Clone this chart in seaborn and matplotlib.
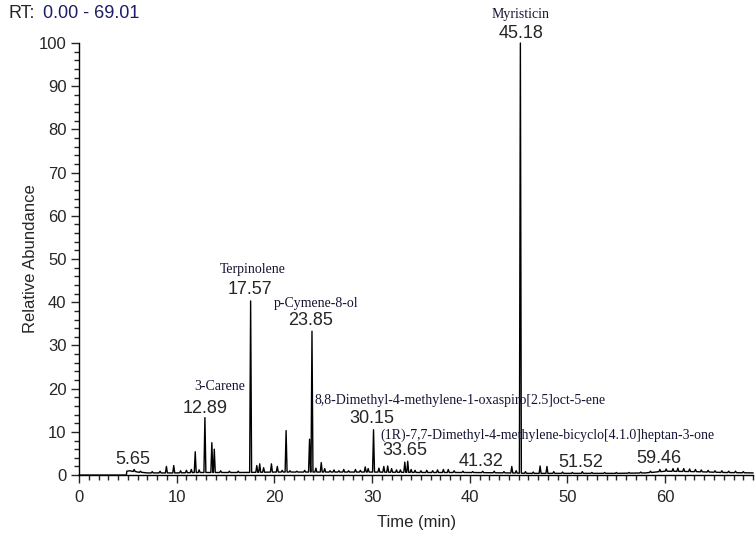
import numpy as np
import pandas as pd
import matplotlib
matplotlib.use("Agg")
import matplotlib.pyplot as plt
from matplotlib.ticker import MultipleLocator
import seaborn as sns

# Baseline of the trace (retention time in min, relative abundance)
base_rt = [0.0, 4.85, 4.9, 5.2, 6.0, 7.0, 8.0, 10.0, 12.0, 15.0, 17.0, 20.0, 25.0,
           30.0, 35.0, 40.0, 44.0, 46.0, 50.0, 55.0, 58.0, 60.0, 63.0, 66.0, 69.01]
base_ab = [0.0, 0.0, 0.9, 1.0, 0.7, 0.5, 0.5, 0.5, 0.6, 0.6, 0.6, 0.7, 0.7,
           0.7, 0.6, 0.6, 0.5, 0.4, 0.4, 0.4, 0.5, 0.9, 0.8, 0.6, 0.5]

# Peak apexes
peak_rt = [5.65, 6.3, 7.5, 8.3, 8.95, 9.7, 10.4, 11.0, 11.5, 11.9, 12.3, 12.89,
           13.6, 13.85, 14.5, 15.4, 16.3, 17.57, 18.2, 18.5, 18.9, 19.7, 20.3,
           20.8, 21.2, 21.6, 22.3, 23.1, 23.6, 23.85, 24.25, 24.8, 25.15, 25.7,
           26.1, 26.6, 27.1, 27.6, 28.3, 28.8, 29.3, 29.6, 30.15, 30.7, 31.2,
           31.6, 32.0, 32.5, 32.9, 33.35, 33.65, 34.0, 34.4, 35.0, 35.6, 36.2,
           36.7, 37.3, 37.8, 38.4, 39.3, 40.3, 41.32, 42.5, 43.5, 44.3, 44.75,
           45.18, 45.7, 46.5, 47.2, 47.9, 48.6, 49.5, 50.5, 51.52, 52.5, 53.8,
           55.0, 56.3, 57.5, 58.5, 59.46, 60.1, 60.8, 61.3, 61.9, 62.5, 63.1,
           63.7, 64.4, 65.1, 65.8, 66.5, 67.2, 68.0]
peak_ab = [1.3, 0.9, 0.8, 0.9, 2.0, 2.2, 1.0, 1.1, 1.3, 5.4, 1.2, 13.3,
           7.5, 6.0, 1.0, 0.9, 0.9, 40.3, 2.2, 2.6, 1.7, 2.6, 2.0,
           1.1, 10.3, 1.0, 0.9, 1.1, 8.3, 33.3, 1.6, 2.9, 1.5, 1.0,
           1.2, 1.0, 1.3, 1.0, 1.3, 1.1, 1.9, 1.5, 10.5, 1.6, 2.0,
           2.1, 1.5, 1.2, 1.2, 3.0, 3.2, 1.3, 1.1, 1.0, 1.1, 1.0,
           1.2, 1.3, 1.3, 1.0, 0.9, 0.8, 0.9, 0.9, 0.8, 2.0, 1.0,
           100.0, 0.8, 0.7, 2.1, 2.0, 0.8, 0.7, 0.6, 0.8, 0.6, 0.6,
           0.6, 0.6, 0.7, 0.9, 1.3, 1.4, 1.5, 1.6, 1.5, 1.4, 1.3,
           1.2, 1.1, 1.0, 1.0, 0.9, 0.9, 0.8]

# Annotated peaks
label_rt = ["5.65", "12.89", "17.57", "23.85", "30.15", "33.65", "41.32",
            "45.18", "51.52", "59.46"]
label_names = ["", "3-Carene", "Terpinolene", "p-Cymene-8-ol",
               "8,8-Dimethyl-4-methylene-1-oxaspiro[2.5]oct-5-ene",
               "(1R)-7,7-Dimethyl-4-methylene-bicyclo[4.1.0]heptan-3-one",
               "", "Myristicin", "", ""]

# build the trace: baseline + narrow triangular peaks
half_w = 0.1
pts = []
for t, a in zip(base_rt, base_ab):
    if all(abs(t - p) > half_w for p in peak_rt):
        pts.append((t, a))
for t, h in zip(peak_rt, peak_ab):
    b = float(np.interp(t, base_rt, base_ab))
    pts += [(t - half_w, b), (t, h), (t + half_w, b)]
pts.sort()
trace = pd.DataFrame(pts, columns=["rt", "abundance"])

sns.set_style("ticks")
plt.rcParams["font.family"] = ["Liberation Sans", "DejaVu Sans"]

fig = plt.figure(figsize=(7.55, 5.35), dpi=100)
ax = fig.add_axes([0.1046, 0.112, 0.893, 0.8076])

sns.lineplot(data=trace, x="rt", y="abundance", sort=False, estimator=None,
             color="black", linewidth=1.0, ax=ax)
for line in ax.lines:
    line.set_clip_on(False)

ax.set_xlim(0, 69.01)
ax.set_ylim(0, 100)
ax.xaxis.set_major_locator(MultipleLocator(10))
ax.xaxis.set_minor_locator(MultipleLocator(1))
ax.yaxis.set_major_locator(MultipleLocator(10))
ax.yaxis.set_minor_locator(MultipleLocator(2))
ax.tick_params(axis="both", which="major", length=6, width=1, labelsize=12)
ax.tick_params(axis="x", which="major", pad=5)
ax.tick_params(axis="y", which="major", pad=3)
ax.tick_params(axis="both", which="minor", length=3.5, width=1)
sns.despine(ax=ax)
for s in ["left", "bottom"]:
    ax.spines[s].set_linewidth(1)
    ax.spines[s].set_color("black")
ax.set_xlabel("Time (min)", fontsize=12, labelpad=7)
ax.set_ylabel("Relative Abundance", fontsize=12, labelpad=0.5)

# label positions (data coords)
num_pos = {"5.65": (5.5, 3.5), "12.89": (12.95, 15.5), "17.57": (17.45, 43.0),
           "23.85": (23.75, 35.7), "30.15": (30.0, 13.0), "33.65": (33.4, 5.6),
           "41.32": (41.2, 3.1), "45.18": (45.2, 102.3), "51.52": (51.4, 2.8),
           "59.46": (59.35, 3.9)}
name_pos = {"3-Carene": (14.4, 20.6, "center"), "Terpinolene": (17.76, 47.5, "center"),
            "p-Cymene-8-ol": (24.25, 39.8, "center"), "Myristicin": (45.2, 106.5, "center"),
            label_names[4]: (24.15, 17.2, "left"), label_names[5]: (30.9, 9.3, "left")}

for num, name in zip(label_rt, label_names):
    x, y = num_pos[num]
    ax.text(x, y, num, ha="center", va="center", fontsize=13, clip_on=False)
    if name:
        nx, ny, ha = name_pos[name]
        ax.text(nx, ny, name, ha=ha, va="center", fontsize=10, color="#141432",
                family=["Liberation Serif", "DejaVu Serif"], clip_on=False)

fig.text(8 / 755, 1 - 13 / 535, "RT:", fontsize=13, va="center", ha="left")
fig.text(43 / 755, 1 - 13 / 535, "0.00 - 69.01", fontsize=13, va="center", ha="left",
         color="#1c1c66")

fig.savefig("out.png", dpi=100, facecolor="white")
